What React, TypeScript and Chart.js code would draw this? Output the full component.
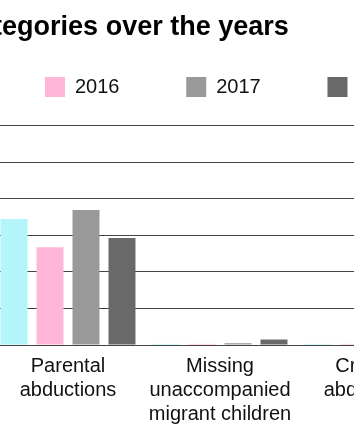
import React, { useEffect, useRef } from "react";
import { Chart, registerables } from "chart.js";

Chart.register(...registerables);

const chartTitle = "Cases by categories over the years";
const categories = [
  ["Parental", "abductions"],
  ["Missing", "unaccompanied", "migrant children"],
  ["Criminal", "abductions"],
];
const years = ["2015", "2016", "2017", "2018"];
const values2015 = [345, 3, 3];
const values2016 = [268, 3, 3];
const values2017 = [370, 5, 5];
const values2018 = [293, 15, 15];
const seriesValues = [values2015, values2016, values2017, values2018];
const seriesColors = ["#b3f5fa", "#ffb6d9", "#999999", "#696969"];
const yMax = 652;
const yStep = 100;

const CANVAS_LEFT = -163;
const AXIS_WIDTH = 155;
const PLOT_WIDTH = 456;
const RIGHT_SPACE = 40;
const CANVAS_HEIGHT = 442;
const FONT = "'Liberation Sans', Arial, sans-serif";

export default function App() {
  const ref = useRef<HTMLCanvasElement | null>(null);

  useEffect(() => {
    if (!ref.current) return;
    const chart = new Chart(ref.current, {
      type: "bar",
      data: {
        labels: categories,
        datasets: years.map((y, i) => ({
          label: y,
          data: seriesValues[i],
          backgroundColor: seriesColors[i],
          borderWidth: 0,
          categoryPercentage: 0.947,
          barPercentage: 0.75,
        })),
      },
      options: {
        responsive: false,
        maintainAspectRatio: false,
        animation: false,
        layout: { padding: { bottom: 7 } },
        plugins: {
          tooltip: { enabled: false },
          title: {
            display: true,
            text: chartTitle,
            align: "start",
            color: "#000",
            font: { size: 27, weight: "bold", lineHeight: 1.2, family: FONT },
            padding: { top: 11.8, bottom: -33.95 },
          },
          legend: {
            display: true,
            align: "start",
            labels: {
              boxWidth: 20,
              boxHeight: 20,
              padding: 66.75,
              color: "#111",
              font: { size: 20, family: FONT },
            },
          },
        },
        scales: {
          x: {
            grid: { display: false, drawTicks: false },
            border: { display: true, color: "#444" },
            ticks: {
              autoSkip: false,
              maxRotation: 0,
              padding: 9,
              color: "#111",
              font: { size: 20, lineHeight: 1.2, family: FONT },
            },
          },
          y: {
            min: 0,
            max: yMax,
            afterFit: (s: any) => {
              s.width = AXIS_WIDTH;
            },
            border: { display: false },
            grid: {
              drawTicks: false,
              color: (c: any) =>
                c.tick && c.tick.value % yStep === 0 ? "#444" : "rgba(0,0,0,0)",
            },
            ticks: {
              stepSize: yStep,
              color: "#111",
              font: { size: 16, family: FONT },
            },
          },
          yRight: {
            type: "linear",
            position: "right",
            display: true,
            min: 0,
            max: yMax,
            afterFit: (s: any) => {
              s.width = RIGHT_SPACE;
            },
            border: { display: false },
            grid: { display: false, drawTicks: false },
            ticks: { display: false },
          },
        },
      },
    });
    return () => chart.destroy();
  }, []);

  return (
    <div
      style={{
        position: "fixed",
        left: 0,
        top: 0,
        width: 354,
        height: 442,
        overflow: "hidden",
        background: "#fff",
      }}
    >
      <canvas
        ref={ref}
        width={AXIS_WIDTH + PLOT_WIDTH + RIGHT_SPACE}
        height={CANVAS_HEIGHT}
        style={{ position: "absolute", left: CANVAS_LEFT, top: 0 }}
      />
    </div>
  );
}
